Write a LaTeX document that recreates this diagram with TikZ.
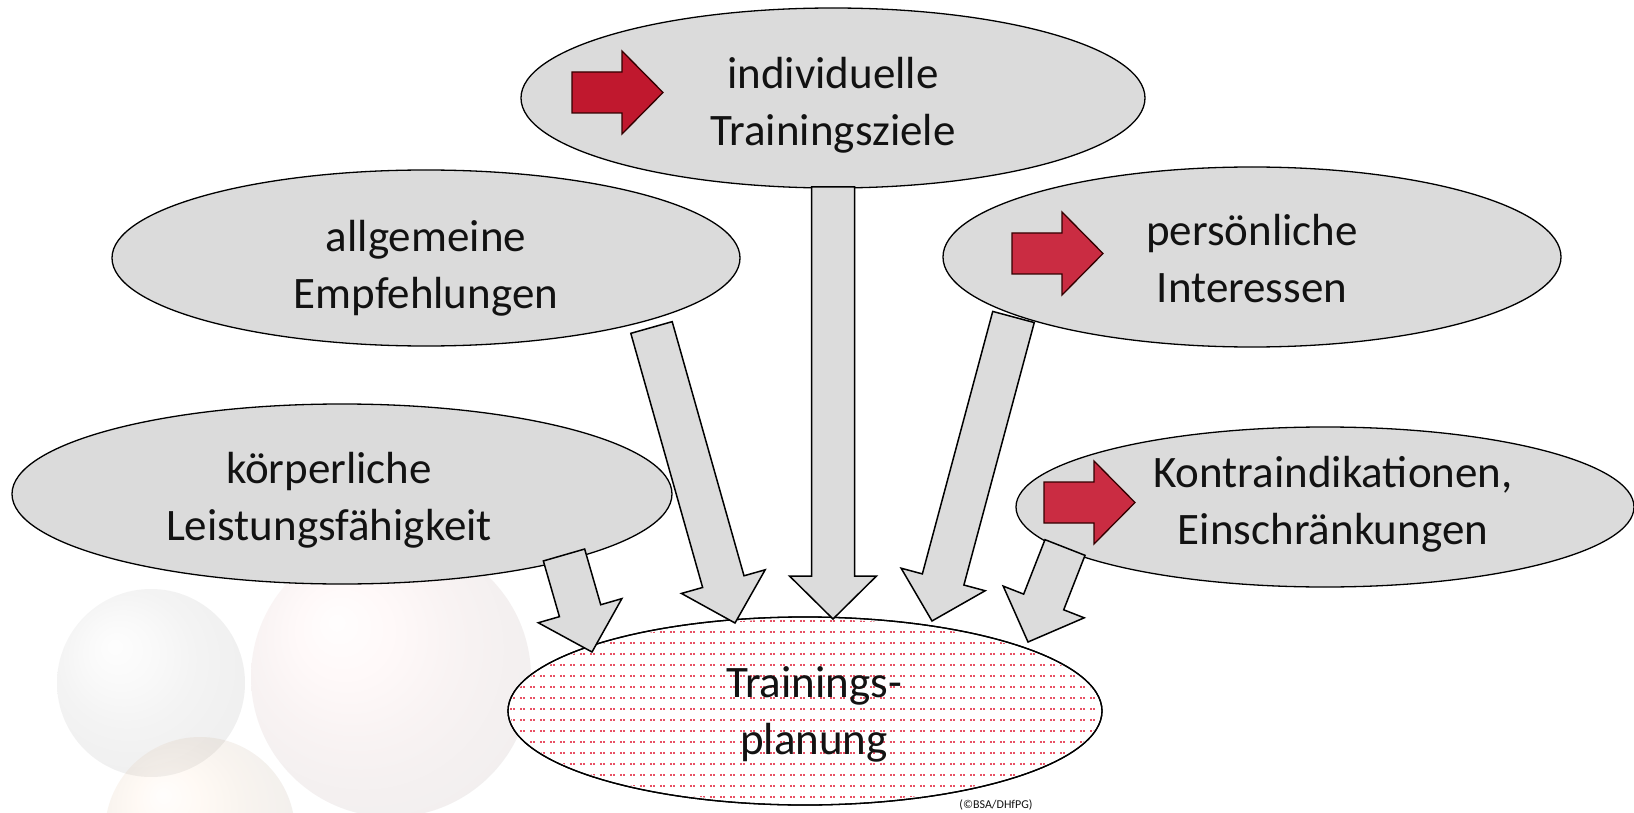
\documentclass[tikz,border=0pt]{standalone}
\usepackage{fontspec}
\setmainfont{Carlito}
\usetikzlibrary{shapes.geometric,calc}
\definecolor{ellfill}{RGB}{219,219,219}
\definecolor{arrfill}{RGB}{220,220,220}
\definecolor{redA}{RGB}{192,24,46}
\definecolor{redB}{RGB}{202,44,66}
\definecolor{dotred}{RGB}{232,80,100}
\definecolor{txt}{RGB}{18,18,18}
\tikzset{
  bubble/.style={ellipse, draw=black, line width=1.3pt, fill=ellfill, inner sep=0pt},
  lbl/.style={font=\fontsize{45}{57}\selectfont, align=center, text=txt, inner sep=0pt},
  blockarr/.style={draw=black, line width=1.5pt, fill=arrfill, line join=miter},
  redarrow/.pic={\path[draw=black!80!red, line width=1.3pt, fill=#1]
      (0,0) -- (50,0) -- (50,-21) -- (91,20.5) -- (50,62) -- (50,41) -- (0,41) -- cycle;},
  ballbg/.style={opacity=0.08}
}
\newcommand\blockarrow[2]{%
  \coordinate (#1h) at ($(#2)!43pt!(#1)$);
  \draw[blockarr] ($(#1)!21.5pt!90:(#2)$) -- ($(#1h)!21.5pt!90:(#2)$) -- ($(#1h)!43.5pt!90:(#2)$)
    -- (#2) -- ($(#1h)!43.5pt!-90:(#2)$) -- ($(#1h)!21.5pt!-90:(#2)$) -- ($(#1)!21.5pt!-90:(#2)$) -- cycle;
}
\begin{document}
\begin{tikzpicture}[x=1pt,y=-1pt]
\useasboundingbox (0,0) rectangle (1634,813);
\fill[white] (0,0) rectangle (1634,813);
% faint background balls
\shade[ballbg, ball color=gray!70] (151,683) circle[radius=94];
\shade[ballbg, ball color=red!40] (391,677) circle[radius=140];
\shade[ballbg, ball color=orange!70] (200,832) circle[radius=95];

% ellipses
\node[bubble, minimum width=624, minimum height=180] (ziele) at (833,98) {};
\node[bubble, minimum width=628, minimum height=176] (empf) at (426,258) {};
\node[bubble, minimum width=618, minimum height=180] (inter) at (1252,257) {};
\node[bubble, minimum width=660, minimum height=180] (leist) at (342,494) {};
\node[bubble, minimum width=618, minimum height=160] (kontra) at (1325,507) {};
\node[bubble, fill=white, minimum width=594, minimum height=188] (plan) at (805,711) {};

% dotted fill of the planning ellipse
\begin{scope}
  \clip (805,711) ellipse [x radius=295, y radius=92];
  \draw[dotred, line width=1.1pt, dash pattern=on 1.6pt off 1.6pt]
    \foreach \yy in {621,632,...,805} { \foreach \xx in {510,520,...,1100} { (\xx,\yy) -- ++(4.8,0) } };
\end{scope}
\draw[line width=1.3pt] (805,711) ellipse [x radius=297, y radius=94];

% block arrows
\coordinate (a1) at (564,555);   \coordinate (a1t) at (592,652);
\coordinate (a2) at (651.5,327.5); \coordinate (a2t) at (735,623);
\coordinate (a3) at (833,187);   \coordinate (a3t) at (833,619);
\coordinate (a4) at (1013.5,317); \coordinate (a4t) at (932,621);
\coordinate (a5) at (1065,547.5); \coordinate (a5t) at (1028,642);
\blockarrow{a1}{a1t}
\blockarrow{a2}{a2t}
\blockarrow{a3}{a3t}
\blockarrow{a4}{a4t}
\blockarrow{a5}{a5t}

% red arrows
\pic at (572,72) {redarrow=redA};
\pic at (1012,233) {redarrow=redB};
\pic at (1044,482) {redarrow=redB};

% texts
\node[lbl] (tziele) at (833,105) {individuelle\\Trainingsziele};
\node[lbl] (tempf) at (426,268) {allgemeine\\Empfehlungen};
\node[lbl] (tinter) at (1252,259) {persönliche\\Interessen};
\node[lbl] (tleist) at (329,500) {körperliche\\Leistungsfähigkeit};
\node[lbl] (tkontra) at (1333,504) {Kontraindikationen,\\Einschränkungen};
\node[lbl] (tplan) at (814,714) {Trainings-\\planung};
\node[font=\fontsize{12}{14}\selectfont, text=txt, inner sep=0pt] (copy) at (996,805) {(©BSA/DHfPG)};
\end{tikzpicture}
\end{document}
